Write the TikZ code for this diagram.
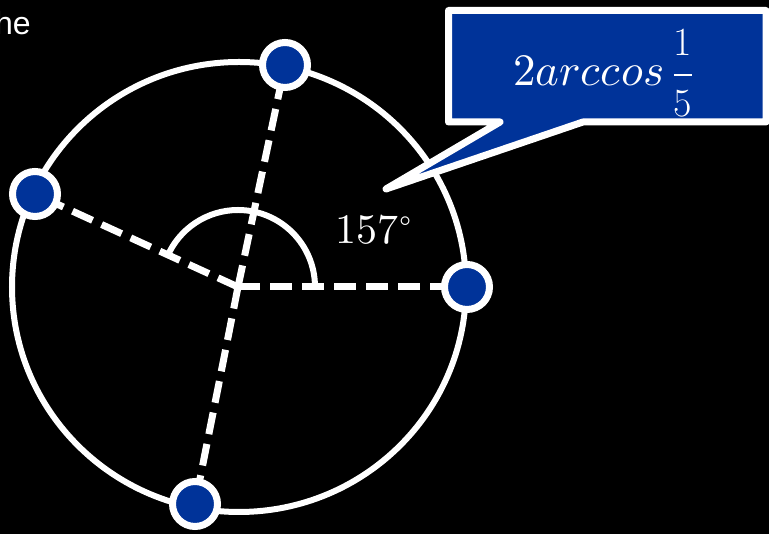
\documentclass[tikz,border=0pt]{standalone}
\usepackage{fontspec}
\usepackage{unicode-math}
\usetikzlibrary{calc}
\newfontfamily\hefont{Liberation Sans}
\definecolor{dotblue}{RGB}{0,51,153}
\newcommand{\fracdigit}[1]{\mbox{\fontsize{40}{40}\selectfont #1}}
\tikzset{
  ring/.style={draw=white, line width=6pt},
  spoke/.style={draw=white, line width=7pt, dash pattern=on 22pt off 10pt},
  dotnode/.style={circle, fill=dotblue, draw=white, line width=7pt, minimum size=45pt, inner sep=0pt},
  callout/.style={fill=dotblue, draw=white, line width=7pt, line join=round},
}
\begin{document}
\begin{tikzpicture}[x=1pt,y=1pt]
\fill[black] (0,0) rectangle (769,534);
\useasboundingbox (0,0) rectangle (769,534);
% main circle
\draw[ring] (239,247) ellipse [x radius=227pt, y radius=225pt];
% centre and dot positions
\coordinate (O) at (238,247);
\coordinate (p1) at (285,469);
\coordinate (p2) at (35,340);
\coordinate (p3) at (467,247);
\coordinate (p4) at (195,30);
% spokes
\draw[spoke] (O) -- (p1);
\draw[spoke] (O) -- (p2);
\draw[spoke] (O) -- (p3);
\draw[spoke] (O) -- (p4);
% angle arc
\draw[ring] ($(O)+(77,0)$) arc[start angle=0, end angle=157, radius=77pt];
% dots
\node[dotnode] (d1) at (p1) {};
\node[dotnode] (d2) at (p2) {};
\node[dotnode] (d3) at (p3) {};
\node[dotnode] (d4) at (p4) {};
% angle label
\node[text=white, font=\fontsize{42}{50}\selectfont, inner sep=0pt] (ang) at (374,304) {$157^\circ$};
% callout
\coordinate (tip) at (386,345);
\path[callout] (448.5,523.5) -- (766,523.5) -- (766,412) -- (583,412) -- (tip) -- (500,412) -- (448.5,412) -- cycle;
\node[text=white, font=\fontsize{45}{54}\selectfont, inner sep=0pt, anchor=base west] (formula) at (513,448) {$2arccos\,\displaystyle\frac{\fracdigit{1}}{\fracdigit{5}}$};
% cut-off text
\node[text=white, font=\hefont\fontsize{32}{38}\selectfont, anchor=base east, inner sep=0pt] (he) at (31,499) {he};
\end{tikzpicture}
\end{document}
